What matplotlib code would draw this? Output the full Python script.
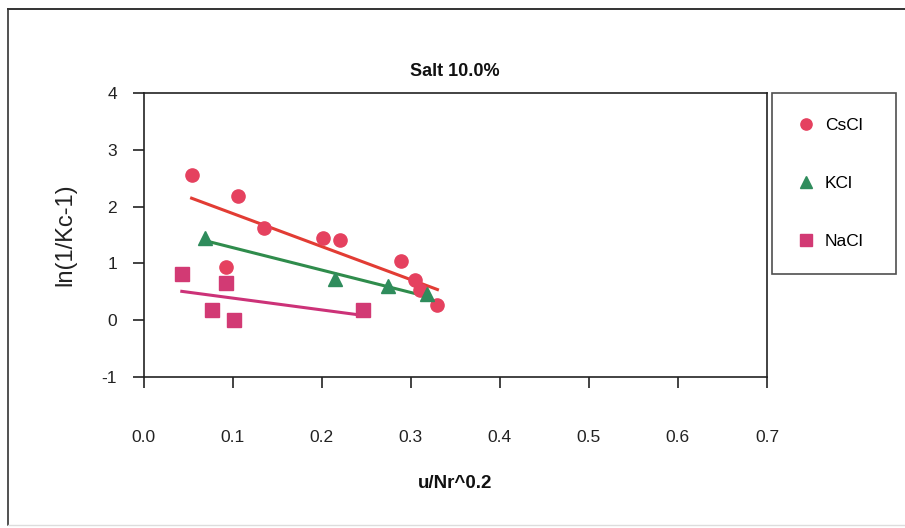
import matplotlib
matplotlib.use("Agg")
import matplotlib.pyplot as plt
import numpy as np
from matplotlib.lines import Line2D

# Measured data: u/Nr^0.2 vs ln(1/Kc-1) at 10 % salt
cscl_x = [0.054, 0.106, 0.135, 0.202, 0.221, 0.093, 0.289, 0.305, 0.310, 0.330]
cscl_y = [2.56, 2.19, 1.62, 1.44, 1.41, 0.93, 1.05, 0.71, 0.53, 0.27]

kcl_x = [0.069, 0.215, 0.275, 0.318]
kcl_y = [1.44, 0.72, 0.61, 0.46]

nacl_x = [0.043, 0.093, 0.077, 0.102, 0.246]
nacl_y = [0.81, 0.65, 0.18, 0.00, 0.18]

x_ticks = [0.0, 0.1, 0.2, 0.3, 0.4, 0.5, 0.6, 0.7]
y_ticks = [-1, 0, 1, 2, 3, 4]

FONT = ["Liberation Sans", "DejaVu Sans"]

W, H = 905, 528
fig = plt.figure(figsize=(W / 100, H / 100), dpi=100)
fig.patch.set_facecolor("white")

# plot area in pixel coordinates -> figure fractions
left, right, top, bottom = 143.5, 767.0, 93.0, 377.0
ax = fig.add_axes([left / W, 1 - bottom / H, (right - left) / W, (bottom - top) / H])

series = [
    ("CsCl", cscl_x, cscl_y, "o", "#e5415f", "#e23c34", 9.5),
    ("KCl", kcl_x, kcl_y, "^", "#2f8c5c", "#2f8c4c", 10),
    ("NaCl", nacl_x, nacl_y, "s", "#d23a74", "#cc3278", 9.5),
]

handles = []
for name, xs, ys, mk, mcol, lcol, ms in series:
    xs = np.asarray(xs)
    ys = np.asarray(ys)
    h, = ax.plot(xs, ys, linestyle="none", marker=mk, markersize=ms,
                 color=mcol, markeredgecolor=mcol, label=name, zorder=3)
    handles.append(h)
    # least-squares trend line across the series' x range
    k, b = np.polyfit(xs, ys, 1)
    xl = np.array([xs.min(), xs.max()])
    ax.plot(xl, k * xl + b, color=lcol, linewidth=2.2, zorder=2)

ax.set_xlim(0, 0.7)
ax.set_ylim(-1, 4)
ax.set_xticks(x_ticks)
ax.set_xticklabels([f"{v:.1f}" for v in x_ticks])
ax.set_yticks(y_ticks)
ax.set_yticklabels([str(v) for v in y_ticks])

for s in ax.spines.values():
    s.set_color("#222222")
    s.set_linewidth(1.2)

ax.tick_params(axis="x", direction="out", length=8, width=1.2, color="#222222",
               pad=30)
ax.tick_params(axis="y", direction="out", length=8, width=1.2, color="#222222",
               pad=11)
for t in ax.get_xticklabels():
    t.set_fontfamily(FONT)
    t.set_fontsize(12.5)
    t.set_color("#222222")
for t in ax.get_yticklabels():
    t.set_fontfamily(FONT)
    t.set_fontsize(12.5)
    t.set_color("#222222")

fig.text((left + right) / 2 / W, 1 - 71 / H, "Salt 10.0%", ha="center", va="center",
         fontsize=13, fontweight="bold", family=FONT, color="#111111")
fig.text((left + right) / 2 / W, 1 - 483 / H, "u/Nr^0.2", ha="center", va="center",
         fontsize=13.5, fontweight="bold", family=FONT, color="#111111")
fig.text(65 / W, 1 - 235 / H, "ln(1/Kc-1)", ha="center", va="center", rotation=90,
         fontsize=17, family=FONT, color="#222222")

leg_h = 0.01
leg = ax.legend(handles=handles, loc="upper left",
                bbox_to_anchor=(772 / W, 1 - 93 / H - leg_h, (896 - 772) / W, leg_h),
                bbox_transform=fig.transFigure, mode="expand",
                prop={"family": FONT, "size": 12.5}, frameon=True, fancybox=False,
                borderpad=1.45, labelspacing=2.45, handlelength=1.0,
                handletextpad=0.6, borderaxespad=0, markerscale=0.85)
leg.get_frame().set_edgecolor("#222222")
leg.get_frame().set_linewidth(1.2)

# outer chart frame
fig.add_artist(Line2D([8 / W, 8 / W], [1 - 9 / H, 1 - 525 / H], color="#333333", lw=1.2))
fig.add_artist(Line2D([8 / W, 1.0], [1 - 9 / H, 1 - 9 / H], color="#333333", lw=1.4))
fig.add_artist(Line2D([8 / W, 1.0], [1 - 525 / H, 1 - 525 / H], color="#dddddd", lw=1.0))

fig.savefig("out.png", dpi=100, facecolor="white")
